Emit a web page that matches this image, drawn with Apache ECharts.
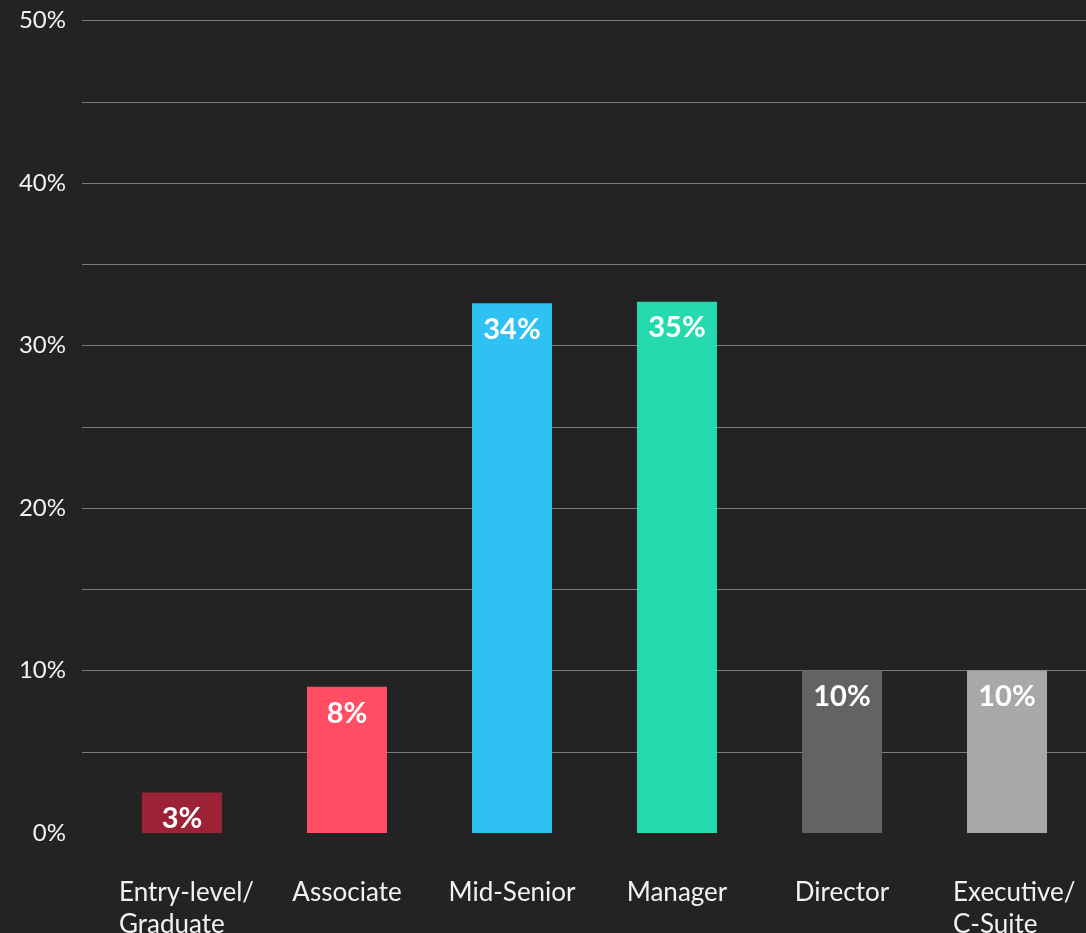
<!DOCTYPE html>
<html>
<head>
<meta charset="utf-8">
<script src="https://cdn.jsdelivr.net/npm/echarts@6/dist/echarts.min.js"></script>
<style>
html,body{margin:0;padding:0;background:#232323;}
#c{width:1086px;height:933px;}
</style>
</head>
<body>
<div id="c"></div>
<script>
const categories = ['Entry-level/\nGraduate', 'Associate', 'Mid-Senior', 'Manager', 'Director', 'Executive/\nC-Suite'];
const values = [2.5, 9.0, 32.6, 32.7, 10.0, 10.0];
const valueLabels = ['3%', '8%', '34%', '35%', '10%', '10%'];
const barColors = ['#9E2236', '#FF4D64', '#2EC1F2', '#24DAAE', '#636363', '#A8A8A8'];
const yTicks = [0, 10, 20, 30, 40, 50];

const FONT = 'Lato, "Noto Sans", sans-serif';
const chart = echarts.init(document.getElementById('c'), null, {renderer: 'canvas'});

const gridColors = ['rgba(0,0,0,0)'].concat(Array(10).fill('#7c7c7c'));
const labelBase = {fontFamily: FONT, fontSize: 26, color: '#f2f2f2', lineHeight: 32};

chart.setOption({
  backgroundColor: '#232323',
  animation: false,
  grid: [
    {left: 82, right: 0, top: 20.5, bottom: 100, outerBoundsMode: 'none', containLabel: false},
    {left: 99.5, width: 990, top: 20.5, bottom: 100, outerBoundsMode: 'none', containLabel: false}
  ],
  xAxis: [
    {gridIndex: 0, type: 'category', data: categories, show: false},
    {
      gridIndex: 1, type: 'category', data: categories,
      axisLine: {show: false}, axisTick: {show: false},
      axisLabel: {
        margin: 44,
        interval: 0,
        formatter: function (v, idx) {
          const parts = v.split('\n');
          if (parts.length > 1) {
            const key = idx === 0 ? 'a' : 'b';
            return parts.map(p => '{' + key + '|' + p + '}').join('\n');
          }
          return '{s|' + v + '}';
        },
        rich: {
          a: Object.assign({width: 126, align: 'left'}, labelBase),
          b: Object.assign({width: 108, align: 'left'}, labelBase),
          s: Object.assign({align: 'center'}, labelBase)
        }
      }
    }
  ],
  yAxis: [
    {
      gridIndex: 0, type: 'value', min: 0, max: 50, interval: 5,
      axisLine: {show: false}, axisTick: {show: false},
      splitLine: {show: true, lineStyle: {color: gridColors, width: 1}},
      axisLabel: {
        margin: 16,
        fontFamily: FONT, fontSize: 24, color: '#f2f2f2',
        formatter: function (v) { return yTicks.indexOf(v) >= 0 ? v + '%' : ''; }
      }
    },
    {gridIndex: 1, type: 'value', min: 0, max: 50, show: false}
  ],
  series: [{
    type: 'bar',
    xAxisIndex: 1, yAxisIndex: 1,
    barWidth: 80,
    data: values.map((v, i) => ({value: v, itemStyle: {color: barColors[i]}})),
    label: {
      show: true,
      position: 'insideTop',
      distance: 12,
      fontFamily: FONT,
      fontWeight: 'bold',
      fontSize: 29,
      color: '#ffffff',
      formatter: function (p) { return valueLabels[p.dataIndex]; }
    }
  }]
});
</script>
</body>
</html>
